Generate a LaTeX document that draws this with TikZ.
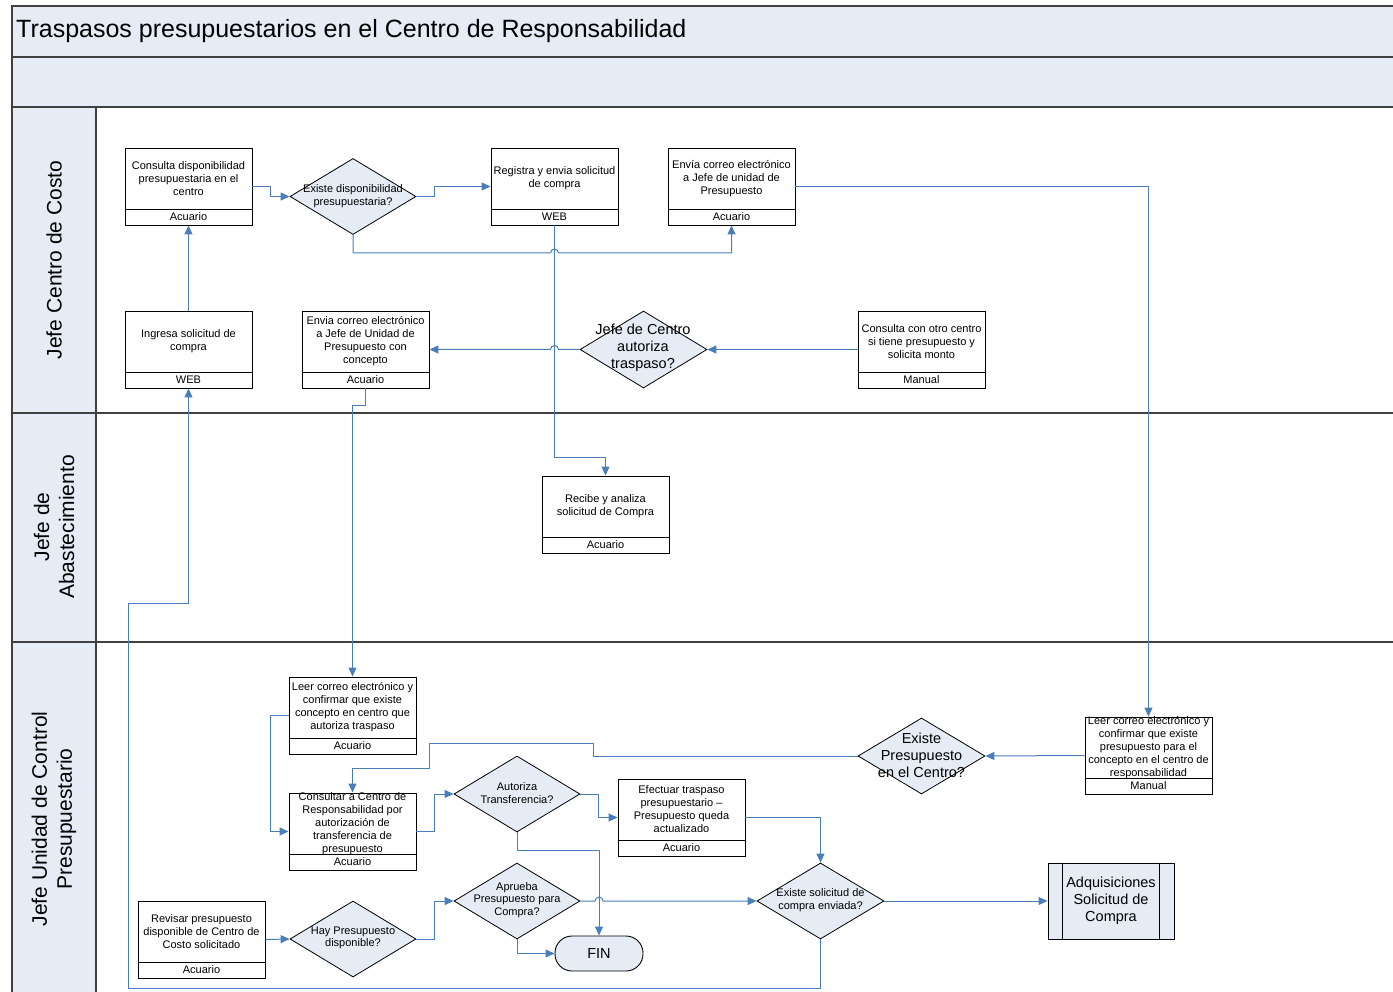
\documentclass[tikz,border=0pt]{standalone}
\usepackage{fontspec}
\setmainfont{Liberation Sans}
\usetikzlibrary{arrows.meta,shapes.geometric,calc}
\definecolor{lb}{HTML}{E5ECF6}
\definecolor{bl}{HTML}{4A7EBB}
\definecolor{fr}{HTML}{404040}
\tikzset{
  pbx/.style={draw=black, line width=0.9pt, fill=white, minimum width=127pt, minimum height=77pt, inner sep=0pt},
  pdiv/.style={draw=black, line width=0.9pt},
  ptx/.style={font=\fontsize{11}{13}\selectfont, align=center, inner sep=0pt},
  dia/.style={diamond, draw=black, line width=0.8pt, fill=lb, minimum width=126pt, minimum height=76pt, inner sep=0pt},
  dtx/.style={font=\fontsize{11}{12.5}\selectfont, align=center, inner sep=0pt},
  dtxl/.style={font=\fontsize{14.5}{17}\selectfont, align=center, inner sep=0pt},
  flow/.style={draw=bl, line width=1pt, -{Triangle[length=9pt,width=8pt]}},
  frame/.style={draw=fr, line width=1.5pt},
  lane/.style={rotate=90, align=center, font=\fontsize{21}{25}\selectfont, inner sep=0pt}
}
\newcommand{\pbox}[4]{%
  \node[pbx] (#1) at (#2) {};
  \draw[pdiv] ([yshift=16pt]#1.south west) -- ([yshift=16pt]#1.south east);
  \node[ptx] (#1-t) at ([yshift=-31pt]#1.north) {#3};
  \node[ptx] (#1-f) at ([yshift=8.5pt]#1.south) {#4};
}
\begin{document}
\begin{tikzpicture}[x=1pt,y=-1pt]
\useasboundingbox (0,0) rectangle (1393,992);
% frame
\fill[lb] (12,6) rectangle (1393,107);
\fill[lb] (12,107) rectangle (96,992);
\draw[frame] (1393,6) -- (12,6) -- (12,992);
\draw[frame] (12,57) -- (1393,57);
\draw[frame] (12,107) -- (1393,107);
\draw[frame] (12,413) -- (1393,413);
\draw[frame] (12,642) -- (1393,642);
\draw[frame] (96,107) -- (96,992);
\node[anchor=west, font=\fontsize{25}{29}\selectfont, inner sep=0pt] (title) at (16,31) {Traspasos presupuestarios en el Centro de Responsabilidad};
\node[lane] (lane1) at (54,260) {Jefe Centro de Costo};
\node[lane] (lane2) at (54,527) {Jefe de\\Abastecimiento};
\node[lane] (lane3) at (54,819) {Jefe Unidad de Control\\Presupuestario};

% process boxes
\pbox{consulta}{188.5,186.5}{Consulta disponibilidad\\presupuestaria en el\\centro}{Acuario}
\pbox{registra}{554.5,186.5}{Registra y envia solicitud\\de compra}{WEB}
\pbox{envia1}{731.5,186.5}{Envía correo electrónico\\a Jefe de unidad de\\Presupuesto}{Acuario}
\pbox{ingresa}{188.5,349.5}{Ingresa solicitud de\\compra}{WEB}
\pbox{envia2}{365.5,349.5}{Envia correo electrónico\\a Jefe de Unidad de\\Presupuesto con\\concepto}{Acuario}
\pbox{consulta2}{921.5,349.5}{Consulta con otro centro\\si tiene presupuesto y\\solicita monto}{Manual}
\pbox{recibe}{605.5,514.5}{Recibe y analiza\\solicitud de Compra}{Acuario}
\pbox{leer1}{352.5,715.5}{Leer correo electrónico y\\confirmar que existe\\concepto en centro que\\autoriza traspaso}{Acuario}
\pbox{consultar}{352.5,831.5}{Consultar a Centro de\\Responsabilidad por\\autorización de\\transferencia de\\presupuesto}{Acuario}
\pbox{efectuar}{681.5,817.5}{Efectuar traspaso\\presupuestario –\\Presupuesto queda\\actualizado}{Acuario}
\pbox{leer2}{1148.5,755.5}{Leer correo electrónico y\\confirmar que existe\\presupuesto para el\\concepto en el centro de\\responsabilidad}{Manual}
\pbox{revisar}{201.5,939.5}{Revisar presupuesto\\disponible de Centro de\\Costo solicitado}{Acuario}

% decisions
\node[dia] (d1) at (353,196.5) {};
\node[dtx] (d1-t) at (353,196) {Existe disponibilidad\\presupuestaria?};
\node[dia, minimum width=127pt, minimum height=77pt] (d2) at (643.5,349.5) {};
\node[dtxl] (d2-t) at (643,348) {Jefe de Centro\\autoriza\\traspaso?};
\node[dia] (d3) at (517,794) {};
\node[dtx] (d3-t) at (517,793) {Autoriza\\Transferencia?};
\node[dia, minimum width=127pt] (d4) at (921.5,756) {};
\node[dtxl] (d4-t) at (921.5,755.5) {Existe\\Presupuesto\\en el Centro?};
\node[dia] (d5) at (353,939) {};
\node[dtx] (d5-t) at (353,938) {Hay Presupuesto\\disponible?};
\node[dia] (d7) at (517,901) {};
\node[dtx] (d7-t) at (517,900) {Aprueba\\Presupuesto para\\Compra?};
\node[dia, minimum width=127pt] (d6) at (820.5,901) {};
\node[dtx] (d6-t) at (820.5,900) {Existe solicitud de\\compra enviada?};

% terminal and predefined process
\node[draw=black, line width=0.9pt, fill=lb, rounded corners=17pt, minimum width=88pt, minimum height=35pt, inner sep=0pt, font=\fontsize{14.5}{17}\selectfont] (fin) at (599,953.5) {FIN};
\node[draw=black, line width=0.9pt, fill=lb, minimum width=126pt, minimum height=76pt, inner sep=0pt, align=center, font=\fontsize{14.5}{17}\selectfont] (adq) at (1111,901) {Adquisiciones\\Solicitud de\\Compra};
\draw[pdiv] ([xshift=15pt]adq.north west) -- ([xshift=15pt]adq.south west);
\draw[pdiv] ([xshift=-15pt]adq.north east) -- ([xshift=-15pt]adq.south east);

% helper coordinates
\coordinate (h1) at (registra.south |- 0,253);
\coordinate (h2) at (registra.south |- d2.west);
\coordinate (h3) at (fin.north |- d7.east);
\coordinate (p1) at (593,743);
\coordinate (p2) at (429,768);
\coordinate (q1) at (128,603);

% connectors
\draw[flow] (ingresa.north) -- (consulta.south);
\draw[flow] (consulta.east) -- ++(18,0) |- (d1.west);
\draw[flow] (d1.east) -- ++(18,0) |- (registra.west);
\draw[flow] (d1.south) |- ([xshift=-4pt]h1) arc[start angle=180,end angle=0,radius=4pt] -| (envia1.south);
\draw[flow] (registra.south) -- ++(0,232) -| (recibe.north);
\draw[flow] (envia1.east) -| (leer2.north);
\draw[flow] (consulta2.west) -- (d2.east);
\draw[flow] (d2.west) -- ([xshift=4pt]h2) arc[start angle=0,end angle=180,radius=4pt] -- (envia2.east);
\draw[flow] (envia2.south) -- ++(0,17) -| (leer1.north);
\draw[flow] (leer1.west) -- ++(-18,0) |- (consultar.west);
\draw[flow] (consultar.east) -- ++(18,0) |- (d3.west);
\draw[flow] (d3.east) -- ++(18,0) |- (efectuar.west);
\draw[flow] (d3.south) -- ++(0,18) -| (fin.north);
\draw[flow] (efectuar.east) -| (d6.north);
\draw[flow] (leer2.west) -- (d4.east);
\draw[flow] (d4.west) -| (p1) -| (p2) -| (consultar.north);
\draw[flow] (revisar.east) -- (d5.west);
\draw[flow] (d5.east) -- ++(18,0) |- (d7.west);
\draw[flow] (d7.east) -- ([xshift=-4pt]h3) arc[start angle=180,end angle=0,radius=4pt] -- (d6.west);
\draw[flow] (d7.south) |- (fin.west);
\draw[flow] (d6.east) -- (adq.west);
\draw[flow] (d6.south) -- ++(0,49) -| (q1) -| (ingresa.south);
\end{tikzpicture}
\end{document}
